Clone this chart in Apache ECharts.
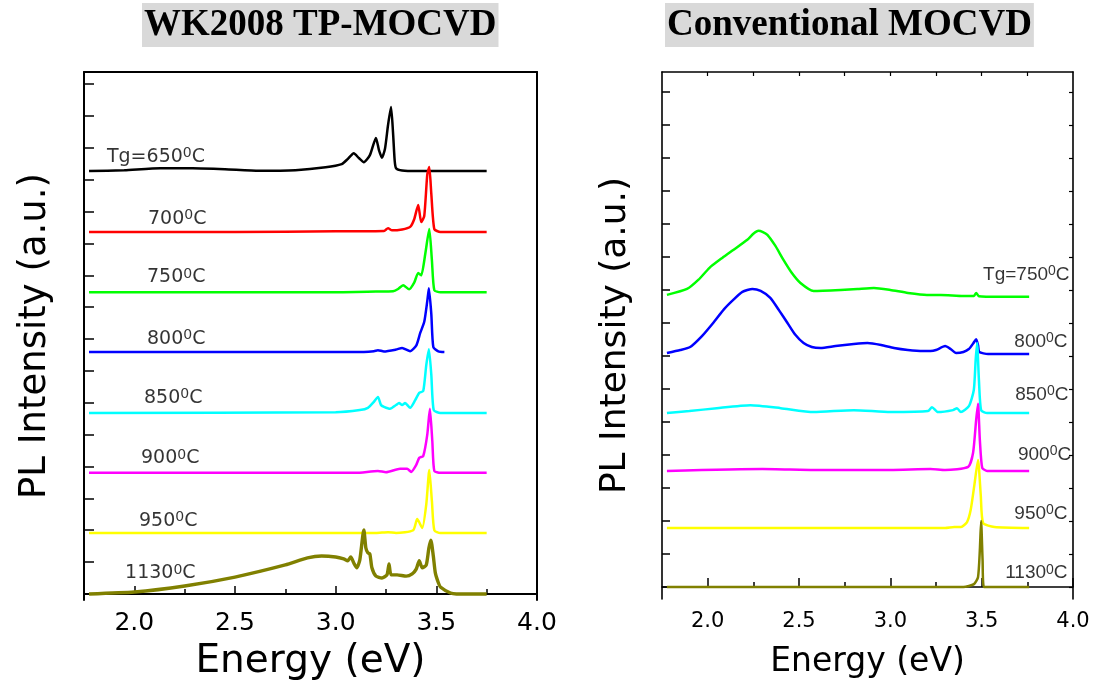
<!DOCTYPE html>
<html><head><meta charset="utf-8">
<script src="https://cdn.jsdelivr.net/npm/echarts@6/dist/echarts.min.js"></script>
<style>html,body{margin:0;padding:0;background:#fff}#c{width:1095px;height:686px}</style>
</head><body><div id="c"></div>
<script>
// ---------- tick values ----------
const energyMajor = [2.0, 2.5, 3.0, 3.5, 4.0];
const energyMinor = [2.25, 2.75, 3.25, 3.75];
const energyTopRight = [2.0, 2.25, 2.5, 2.75, 3.0, 3.25, 3.5, 3.75];
const intensityTicksLeft = [0,1,2,3,4,5,6,7,8,9,10,11,12,13,14,15,16];
const intensityTicksRight = [0,1,2,3,4,5,6,7,8,9,10,11,12,13,14,15];

// ---------- WK2008 TP-MOCVD spectra: [energy eV, intensity above baseline] ----------
const tp650 = [[1.775,0],[1.95,0.03],[2.13,0.09],[2.29,0.09],[2.45,0.06],[2.62,0.01],[2.8,0.03],[2.95,0.12],[3.03,0.22],[3.06,0.38],[3.09,0.56],[3.115,0.41],[3.14,0.28],[3.17,0.5],[3.20,1.04],[3.215,0.66],[3.23,0.42],[3.245,0.7],[3.26,1.44],[3.275,2.01],[3.285,1.2],[3.293,0.34],[3.30,0.09],[3.33,0.02],[3.40,0],[3.75,0]];
const tp700 = [[1.775,0],[2.5,0],[3.0,0.02],[3.24,0.03],[3.26,0.12],[3.28,0.05],[3.33,0.08],[3.37,0.16],[3.39,0.4],[3.41,0.85],[3.425,0.31],[3.44,0.5],[3.455,1.8],[3.465,2.04],[3.475,1.2],[3.49,0.09],[3.52,0],[3.75,0]];
const tp750 = [[1.775,0],[3.0,0],[3.2,0.02],[3.285,0.03],[3.31,0.1],[3.335,0.22],[3.365,0.09],[3.39,0.3],[3.41,0.6],[3.425,0.53],[3.445,1.2],[3.465,1.98],[3.478,1.0],[3.49,0.06],[3.52,0],[3.75,0]];
const tp800 = [[1.775,0],[3.1,0],[3.19,0.03],[3.21,0.06],[3.24,0.02],[3.3,0.08],[3.33,0.13],[3.37,0.03],[3.4,0.2],[3.42,0.6],[3.44,0.95],[3.455,1.6],[3.463,2.0],[3.475,1.2],[3.485,0.16],[3.51,0.02],[3.54,0]];
const tp850 = [[1.775,0],[3.0,0.02],[3.12,0.09],[3.16,0.16],[3.19,0.35],[3.21,0.5],[3.225,0.25],[3.24,0.19],[3.27,0.13],[3.3,0.25],[3.315,0.31],[3.33,0.25],[3.345,0.31],[3.37,0.16],[3.395,0.4],[3.415,0.63],[3.435,0.69],[3.45,1.5],[3.463,2.0],[3.475,1.2],[3.487,0.09],[3.52,0],[3.75,0]];
const tp900 = [[1.775,0],[3.1,0],[3.21,0.06],[3.25,0.02],[3.32,0.13],[3.355,0.13],[3.375,0.03],[3.40,0.25],[3.415,0.47],[3.435,0.53],[3.455,1.2],[3.468,2.01],[3.48,1.0],[3.49,0.06],[3.52,0],[3.75,0]];
const tp950 = [[1.775,0],[3.2,0],[3.26,0.03],[3.3,0],[3.385,0.09],[3.405,0.44],[3.43,0.16],[3.45,0.9],[3.465,1.98],[3.478,1.0],[3.49,0.09],[3.52,0],[3.75,0]];
const tp1130 = [[1.775,0],[2.0,0.06],[2.25,0.25],[2.5,0.53],[2.75,0.91],[2.86,1.13],[2.93,1.19],[3.0,1.16],[3.04,1.1],[3.06,1.04],[3.075,1.16],[3.09,0.97],[3.105,0.82],[3.12,1.07],[3.14,2.01],[3.15,1.44],[3.16,1.29],[3.17,1.25],[3.18,0.82],[3.2,0.56],[3.23,0.5],[3.255,0.6],[3.265,0.94],[3.275,0.6],[3.305,0.6],[3.35,0.56],[3.38,0.63],[3.4,0.78],[3.415,1.04],[3.43,0.82],[3.45,0.91],[3.463,1.44],[3.473,1.69],[3.485,1.19],[3.495,0.66],[3.51,0.35],[3.52,0.22],[3.57,0.03],[3.6,0],[3.75,0]];
const tpOffsets = [13.27, 11.36, 9.47, 7.59, 5.68, 3.80, 1.91, 0];
const tpNames = ['Tg=650', '700', '750', '800', '850', '900', '950', '1130'];
const tpLabelAnchor = [[1.864,13.72],[2.068,11.78],[2.063,9.93],[2.063,8.01],[2.048,6.16],[2.033,4.25],[2.023,2.30],[1.954,0.64]];

// ---------- Conventional MOCVD spectra ----------
const cv750 = [[1.777,0.06],[1.887,0.24],[1.95,0.52],[2.01,0.88],[2.08,1.18],[2.14,1.42],[2.217,1.73],[2.25,1.91],[2.278,2.0],[2.3,1.97],[2.327,1.88],[2.37,1.55],[2.415,1.12],[2.46,0.73],[2.508,0.42],[2.58,0.18],[2.728,0.21],[2.82,0.24],[2.91,0.27],[3.0,0.21],[3.096,0.12],[3.2,0.06],[3.277,0.06],[3.4,0.03],[3.458,0.03],[3.47,0.12],[3.485,0.02],[3.6,0],[3.76,0]];
const cv800 = [[1.777,0.03],[1.85,0.12],[1.904,0.21],[1.97,0.55],[2.03,0.94],[2.09,1.36],[2.14,1.64],[2.19,1.88],[2.245,1.97],[2.29,1.91],[2.343,1.7],[2.39,1.33],[2.437,0.94],[2.48,0.58],[2.525,0.33],[2.57,0.21],[2.618,0.18],[2.7,0.24],[2.8,0.3],[2.875,0.33],[2.95,0.27],[3.02,0.18],[3.096,0.12],[3.18,0.09],[3.22,0.09],[3.25,0.12],[3.30,0.24],[3.33,0.15],[3.36,0.03],[3.40,0.06],[3.43,0.15],[3.455,0.33],[3.47,0.45],[3.48,0.27],[3.487,0.06],[3.535,0],[3.76,0]];
const cv850 = [[1.777,0],[1.9,0.06],[2.05,0.15],[2.234,0.24],[2.4,0.15],[2.58,0.03],[2.8,0.09],[3.0,0.03],[3.206,0.06],[3.228,0.18],[3.26,0.03],[3.343,0.09],[3.365,0.15],[3.386,0.03],[3.43,0.21],[3.457,0.7],[3.467,1.6],[3.475,2.12],[3.485,1.0],[3.497,0.09],[3.53,0],[3.76,0]];
const cv900 = [[1.777,0],[2.3,0.06],[2.6,0.03],[3.0,0.03],[3.22,0.06],[3.3,0.03],[3.426,0.12],[3.453,0.55],[3.47,1.55],[3.48,2.03],[3.49,0.94],[3.503,0.09],[3.53,0],[3.76,0]];
const cv950 = [[1.777,0],[3.3,0],[3.35,0.03],[3.387,0.03],[3.42,0.18],[3.44,0.55],[3.46,1.3],[3.48,2.06],[3.495,1.0],[3.508,0.15],[3.57,0.03],[3.76,0]];
const cv1130 = [[1.777,0],[3.4,0],[3.458,0.09],[3.48,0.3],[3.49,1.12],[3.497,2.0],[3.505,0.82],[3.513,0],[3.76,0]];
const cvOffsets = [8.79, 7.06, 5.27, 3.52, 1.79, 0];
const cvNames = ['Tg=750', '800', '850', '900', '950', '1130'];
const cvLabelAnchor = [[3.981,9.45],[3.97,7.42],[3.975,5.82],[3.99,4.0],[3.97,2.21],[3.97,0.42]];

// ---------- build ----------
const tpSpectra = [tp650, tp700, tp750, tp800, tp850, tp900, tp950, tp1130];
const tpColors = ['#000000','#ff0000','#00ff00','#0000ff','#00ffff','#ff00ff','#ffff00','#808000'];
const cvSpectra = [cv750, cv800, cv850, cv900, cv950, cv1130];
const cvColors = ['#00ff00','#0000ff','#00ffff','#ff00ff','#ffff00','#808000'];

const chart = echarts.init(document.getElementById('c'), null, {renderer: 'canvas'});
const series = [];
function line(data, off, color, xi, yi, w) {
  return {type: 'line', xAxisIndex: xi, yAxisIndex: yi, showSymbol: false, symbol: 'none',
    smooth: 0.2, animation: false, lineStyle: {color: color, width: w},
    data: data.map(p => [p[0], +(p[1] + off).toFixed(3)])};
}
tpSpectra.forEach((d, i) => series.push(line(d, tpOffsets[i], tpColors[i], 0, 0, i === 7 ? 3.4 : 2.5)));
cvSpectra.forEach((d, i) => series.push(line(d, cvOffsets[i], cvColors[i], 3, 2, 2.5)));

function labels(names, anchors, xi, yi, pos, fs, fam) {
  return {type: 'scatter', xAxisIndex: xi, yAxisIndex: yi, symbolSize: 0, animation: false, z: 10,
    data: names.map((n, i) => ({value: anchors[i], name: n})),
    label: {show: true, position: pos, distance: 0, color: '#000',
      formatter: p => '{n|' + p.name + '}{s|0}{n|C}',
      rich: {
        n: {fontSize: fs, fontFamily: fam, color: '#000', lineHeight: fs + 2},
        s: {fontSize: 14, fontFamily: fam, color: '#000', verticalAlign: 'top', lineHeight: fs + 2, padding: [0, 0, 11, 0]}
      }}};
}
series.push(labels(tpNames, tpLabelAnchor, 0, 0, 'right', 19, 'DejaVu Sans'));
series.push(labels(cvNames, cvLabelAnchor, 3, 2, 'left', 19, 'Liberation Sans'));

const blk = '#000';
function xMajor(grid, fs, len, w, margin, gap, nfs) {
  return {type: 'value', gridIndex: grid, min: 1.75, max: 4.0, position: 'bottom',
    axisLine: {show: true, lineStyle: {color: blk, width: w}},
    axisTick: {show: true, inside: true, length: len, customValues: energyMajor, lineStyle: {color: blk, width: 1.5}},
    axisLabel: {show: true, customValues: energyMajor, margin: margin, fontSize: fs, fontFamily: 'DejaVu Sans', color: '#000', formatter: v => v.toFixed(1)},
    splitLine: {show: false},
    name: 'Energy (eV)', nameLocation: 'middle', nameGap: gap,
    nameTextStyle: {fontSize: nfs, fontFamily: 'DejaVu Sans', color: '#000'}};
}
function xMinor(grid, len, vals, pos) {
  return {type: 'value', gridIndex: grid, min: 1.75, max: 4.0, position: pos,
    axisLine: {show: false}, axisLabel: {show: false}, splitLine: {show: false},
    axisTick: {show: true, inside: true, length: len, customValues: vals, lineStyle: {color: blk, width: 1.5}}};
}
function xTop(grid, w, showTicks) {
  return {type: 'value', gridIndex: grid, min: 1.75, max: 4.0, position: 'top',
    axisLine: {show: true, lineStyle: {color: blk, width: w}}, axisLabel: {show: false}, splitLine: {show: false},
    axisTick: {show: showTicks, inside: true, length: 4, customValues: energyTopRight, lineStyle: {color: blk, width: 1.2}}};
}
function yMain(grid, min, max, ticks, len, w, gap, nfs) {
  return {type: 'value', gridIndex: grid, min: min, max: max, position: 'left',
    axisLine: {show: true, lineStyle: {color: blk, width: w}},
    axisTick: {show: true, inside: true, length: len, customValues: ticks, lineStyle: {color: blk, width: 1.5}},
    axisLabel: {show: false}, splitLine: {show: false},
    name: 'PL Intensity (a.u.)', nameLocation: 'middle', nameGap: gap,
    nameTextStyle: {fontSize: nfs, fontFamily: 'DejaVu Sans', color: '#000'}};
}
function yRight(grid, min, max, ticks, w, showTicks) {
  return {type: 'value', gridIndex: grid, min: min, max: max, position: 'right',
    axisLine: {show: true, lineStyle: {color: blk, width: w}},
    axisTick: {show: showTicks, inside: true, length: 4, customValues: ticks, lineStyle: {color: blk, width: 1.2}},
    axisLabel: {show: false}, splitLine: {show: false}};
}

const titleStyle = {fontSize: 37, fontFamily: 'Liberation Serif', fontWeight: 'bold', color: '#000', lineHeight: 37};
chart.setOption({
  backgroundColor: '#fff',
  animation: false,
  title: [
    {text: 'WK2008 TP-MOCVD', left: 142, top: 3, padding: [4, 2, 3, 2], backgroundColor: '#d9d9d9', textStyle: titleStyle},
    {text: 'Conventional MOCVD', left: 665, top: 3, padding: [4, 2, 3, 2], backgroundColor: '#d9d9d9', textStyle: titleStyle}
  ],
  grid: [
    {left: 84, top: 72, width: 453, height: 528, containLabel: false},
    {left: 662, top: 72, width: 411, height: 527, containLabel: false}
  ],
  xAxis: [
    xMajor(0, 25, 8, 2, 11, 42, 39),
    xMinor(0, 5, energyMinor, 'bottom'),
    xTop(0, 2, false),
    xMajor(1, 21, 9, 1.6, 12, 47, 33),
    xMinor(1, 5, energyMinor, 'bottom'),
    xTop(1, 1.6, true)
  ],
  yAxis: [
    yMain(0, -0.19, 16.38, intensityTicksLeft, 10, 2, 30, 37),
    yRight(0, -0.19, 16.38, intensityTicksLeft, 2, false),
    yMain(1, -0.36, 15.6, intensityTicksRight, 8, 1.6, 28, 36),
    yRight(1, -0.36, 15.6, intensityTicksRight, 1.6, true)
  ],
  series: series
});
</script></body></html>
